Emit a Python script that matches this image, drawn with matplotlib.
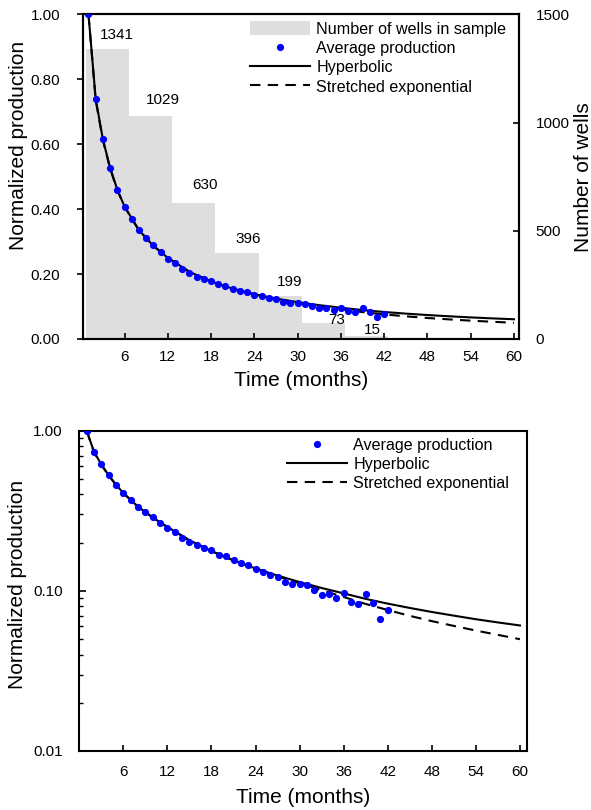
import matplotlib
matplotlib.use("Agg")
import matplotlib.pyplot as plt
from matplotlib.ticker import FixedLocator, FormatStrFormatter, NullFormatter, LogLocator
import numpy as np

plt.rcParams['font.family'] = ['Liberation Sans', 'DejaVu Sans']

# ---------------- data ----------------
months = list(range(1, 43))
avg_production = [1.000, 0.739, 0.617, 0.527, 0.458, 0.407, 0.369, 0.335, 0.312, 0.288,
                  0.267, 0.246, 0.233, 0.215, 0.203, 0.192, 0.184, 0.180, 0.168, 0.164,
                  0.155, 0.149, 0.144, 0.136, 0.131, 0.125, 0.122, 0.114, 0.110, 0.111,
                  0.108, 0.101, 0.0947, 0.0950, 0.0900, 0.0966, 0.0853, 0.0828, 0.0953, 0.0837,
                  0.0670, 0.0763]

curve_t = [1, 2, 3, 4, 5, 6, 8, 10, 12, 15, 18, 21, 24, 27, 30, 33, 36, 39, 42, 45, 48, 51, 54, 57, 60]
hyperbolic = [1.000, 0.740, 0.615, 0.527, 0.460, 0.408, 0.335, 0.287, 0.250, 0.207, 0.177, 0.155,
              0.138, 0.1245, 0.1135, 0.1042, 0.0964, 0.0891, 0.0832, 0.0782, 0.0738, 0.0700,
              0.0665, 0.0635, 0.0608]
stretched_exp = [1.000, 0.735, 0.612, 0.525, 0.459, 0.407, 0.335, 0.287, 0.250, 0.207, 0.177, 0.155,
                 0.1374, 0.1233, 0.1114, 0.1009, 0.0916, 0.0828, 0.0759, 0.0698, 0.0647, 0.0604,
                 0.0565, 0.0531, 0.0499]

bin_start = [1, 7, 13, 19, 25, 31, 37]
wells = [1341, 1029, 630, 396, 199, 73, 15]

x_ticks = [6, 12, 18, 24, 30, 36, 42, 48, 54, 60]

# ---------------- styles ----------------
FS = 11
LEG = 11.6
LBL = 15
BLUE = '#0000ff'
GRAY = '#dedede'
label_dx = [4.0, 4.3, 4.2, 4.1, 3.95, 4.4, 3.4]      # months right of bin start
label_dy = [10, 11.5, 12.5, 10.5, 10, 2.5, 4]         # points above bar top

fig = plt.figure(figsize=(5.91, 8.10), dpi=100)

def style_axis(ax):
    for s in ax.spines.values():
        s.set_linewidth(1.5)
        s.set_color('black')
    ax.tick_params(axis='x', direction='in', length=4, width=1.2, labelsize=FS, pad=10)
    ax.tick_params(axis='y', labelsize=FS)

# ---------------- top chart ----------------
ax = fig.add_axes([82.7/591, 1-339/810, (519-82.7)/591, (339-14.3)/810])
ax2 = ax.twinx()
ax.set_zorder(ax2.get_zorder() + 1)
ax.patch.set_visible(False)

bars = ax2.bar([b - 0.4 for b in bin_start], wells, width=6, align='edge', color=GRAY,
               linewidth=0, label='Number of wells in sample')
for b, w, dx, dy in zip(bin_start, wells, label_dx, label_dy):
    ax2.annotate(str(w), xy=(b + dx, w), xytext=(0, dy), textcoords='offset points',
                 ha='center', va='center', fontsize=FS)
ax2.set_ylim(0, 1500)
ax2.yaxis.set_major_locator(FixedLocator([0, 500, 1000, 1500]))
ax2.tick_params(axis='y', direction='in', length=4, width=1.2, labelsize=FS, pad=12)
ax2.set_ylabel('Number of wells', fontsize=LBL)
ax2.yaxis.label.set_verticalalignment('center')
ax2.yaxis.set_label_coords(1.147, 0.5)

pts, = ax.plot(months, avg_production, 'o', color=BLUE, markersize=5.2, markeredgewidth=0,
               label='Average production', zorder=4)
se_line, = ax.plot(curve_t, stretched_exp, color='black', lw=1.5, ls=(0, (5, 3.5)),
                   label='Stretched exponential', zorder=2)
hy_line, = ax.plot(curve_t, hyperbolic, color='black', lw=1.5, label='Hyperbolic', zorder=3)

ax.set_xlim(0.2, 60.7)
ax.set_ylim(0, 1.0)
ax.xaxis.set_major_locator(FixedLocator(x_ticks))
ax.yaxis.set_major_locator(FixedLocator([0, 0.2, 0.4, 0.6, 0.8, 1.0]))
ax.yaxis.set_major_formatter(FormatStrFormatter('%.2f'))
style_axis(ax)
ax.tick_params(axis='x', pad=8)
ax.tick_params(axis='y', direction='out', length=4, width=1.2, pad=12)
for s in ax2.spines.values():
    s.set_linewidth(1.5)
ax.set_xlabel('Time (months)', fontsize=LBL)
ax.xaxis.label.set_verticalalignment('center')
ax.xaxis.set_label_coords(0.5, -0.129)
ax.set_ylabel('Normalized production', fontsize=LBL)
ax.yaxis.label.set_verticalalignment('center')
ax.yaxis.set_label_coords(-0.148, 0.595)

ax.legend([bars, pts, hy_line, se_line],
          ['Number of wells in sample', 'Average production', 'Hyperbolic', 'Stretched exponential'],
          loc='upper left', bbox_to_anchor=(0.3835, 0.978), frameon=False, fontsize=LEG,
          borderpad=0, borderaxespad=0, handlelength=3.73, handletextpad=0.38,
          labelspacing=0.25, handleheight=0.9)

# ---------------- bottom chart ----------------
bx = fig.add_axes([79.3/591, 1-751/810, 448/591, 320.3/810])
p2, = bx.plot(months, avg_production, 'o', color=BLUE, markersize=5.2, markeredgewidth=0,
              label='Average production', zorder=4)
s2, = bx.plot(curve_t, stretched_exp, color='black', lw=1.5, ls=(0, (5, 3.5)),
              label='Stretched exponential', zorder=2)
h2, = bx.plot(curve_t, hyperbolic, color='black', lw=1.5, label='Hyperbolic', zorder=3)
bx.set_yscale('log')
bx.set_xlim(0, 61)
bx.set_ylim(0.01, 1.0)
bx.xaxis.set_major_locator(FixedLocator(x_ticks))
bx.yaxis.set_major_locator(FixedLocator([0.01, 0.1, 1.0]))
bx.yaxis.set_major_formatter(FormatStrFormatter('%.2f'))
bx.yaxis.set_minor_locator(LogLocator(base=10, subs=np.arange(2, 10)))
bx.yaxis.set_minor_formatter(NullFormatter())
style_axis(bx)
bx.tick_params(axis='y', which='major', direction='in', length=5, width=1.2, pad=12)
bx.tick_params(axis='y', which='minor', direction='in', length=3, width=1.0)
bx.set_xlabel('Time (months)', fontsize=LBL)
bx.xaxis.label.set_verticalalignment('center')
bx.xaxis.set_label_coords(0.5, -0.144)
bx.set_ylabel('Normalized production', fontsize=LBL)
bx.yaxis.label.set_verticalalignment('center')
bx.yaxis.set_label_coords(-0.137, 0.52)

bx.legend([p2, h2, s2], ['Average production', 'Hyperbolic', 'Stretched exponential'],
          loc='upper left', bbox_to_anchor=(0.4636, 0.978), frameon=False, fontsize=LEG,
          borderpad=0, borderaxespad=0, handlelength=3.73, handletextpad=0.38,
          labelspacing=0.25)

fig.savefig('out.png', dpi=100)
